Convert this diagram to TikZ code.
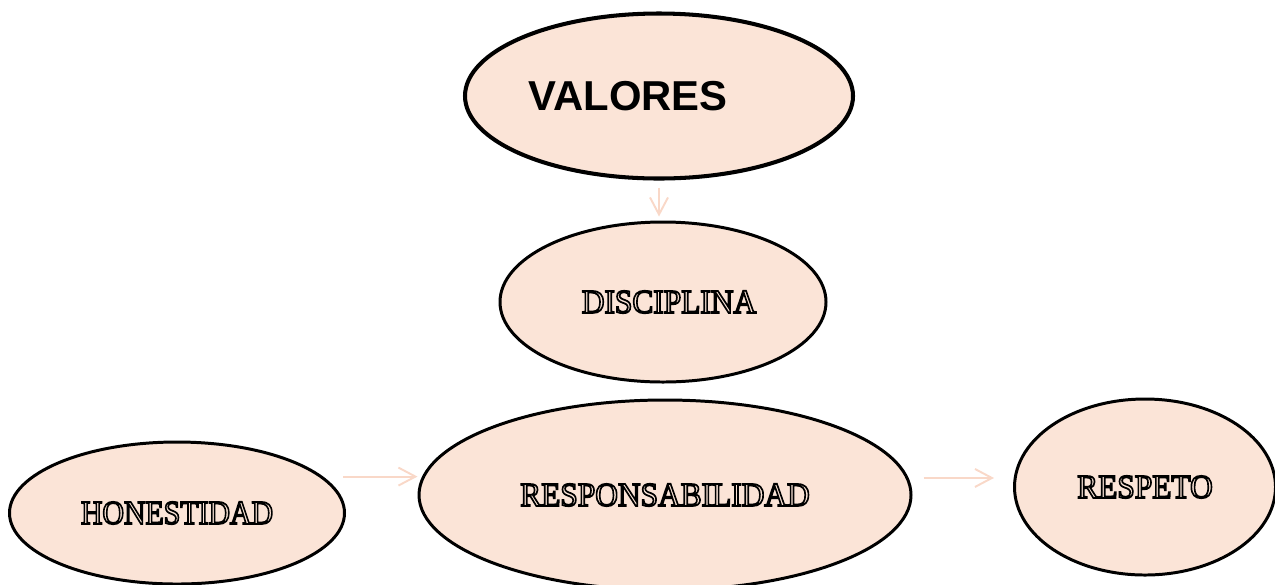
\documentclass[tikz,border=0pt]{standalone}
\usepackage{fontspec}
\setmainfont{Liberation Serif}
\newfontfamily\titulo{Liberation Sans}
\usetikzlibrary{shapes.geometric,arrows.meta}

\definecolor{fondo}{RGB}{251,228,215}
\definecolor{flecha}{RGB}{249,216,200}
\newcommand{\hueca}[1]{\scalebox{0.94}[1]{\special{pdf:literal direct 1 Tr 1 w 0 G}#1\special{pdf:literal direct 0 Tr}}}

\begin{document}
\begin{tikzpicture}
\tikzset{E/.style={ellipse,draw=black,fill=fondo,line width=1.7pt,inner sep=0pt,font=\fontsize{19}{19}\selectfont}}
\tikzset{flechita/.style={draw=flecha,line width=1.1pt,-{Straight Barb[length=3.4mm,width=3.6mm]}}}

  \useasboundingbox (0,0) rectangle (25.5,-11.68);

  \node[E,line width=2.3pt,minimum width=7.76cm,minimum height=3.3cm,font=\titulo\bfseries\fontsize{23.8}{24}\selectfont] (valores) at (13.18,-1.92) {VALORES\hspace*{1.24cm}};
  \node[E,minimum width=6.52cm,minimum height=3.2cm] (disciplina) at (13.26,-6.04) {\hspace*{0.24cm}\hueca{DISCIPLINA}};
  \node[E,minimum width=9.84cm,minimum height=3.8cm] (responsabilidad) at (13.3,-9.9) {\hueca{RESPONSABILIDAD}};
  \node[E,minimum width=6.7cm,minimum height=2.84cm] (honestidad) at (3.54,-10.26) {\scalebox{0.95}[1]{\hueca{HONESTIDAD}}};
  \node[E,minimum width=5.22cm,minimum height=3.52cm] (respeto) at (22.9,-9.74) {\hueca{RESPETO}};

  \draw[flechita,shorten <=0.14cm,shorten >=0.08cm] (valores.south) -- (valores.south |- disciplina.north);
  \draw[flechita,shorten <=0.4cm] (honestidad.14.6) -- (honestidad.14.6 -| responsabilidad.west);
  \draw[flechita,shorten <=0.3cm,shorten >=0.38cm] (responsabilidad.4.5) -- (responsabilidad.4.5 -| respeto.west);
\end{tikzpicture}
\end{document}
